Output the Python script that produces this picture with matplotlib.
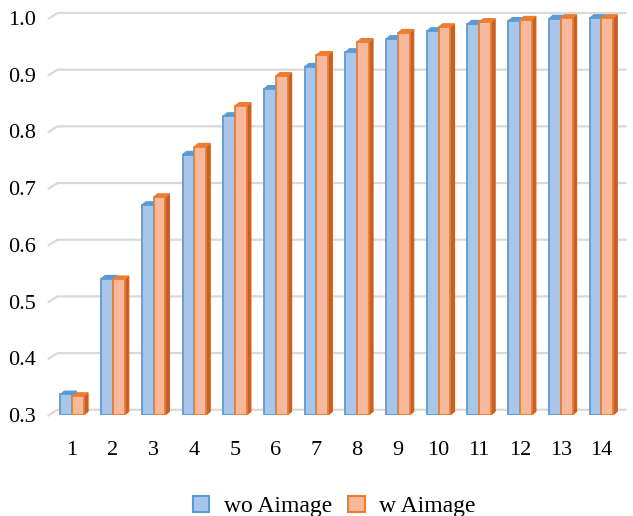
import matplotlib
matplotlib.use("Agg")
import matplotlib.pyplot as plt
from matplotlib.patches import Polygon, Patch
import numpy as np

categories = [str(i) for i in range(1, 15)]
wo_aimage = [0.336, 0.540, 0.670, 0.759, 0.827, 0.875, 0.914, 0.940, 0.963, 0.977, 0.990, 0.995, 0.999, 1.000]
w_aimage = [0.333, 0.539, 0.684, 0.773, 0.845, 0.898, 0.935, 0.958, 0.974, 0.984, 0.993, 0.997, 1.000, 1.000]
yticks = [0.3, 0.4, 0.5, 0.6, 0.7, 0.8, 0.9, 1.0]

plt.rcParams['font.family'] = ['Liberation Serif', 'DejaVu Serif']

fig = plt.figure(figsize=(6.33, 5.16), dpi=100)
ax = fig.add_axes([0.087, 0.196, 0.903, 0.781])

base = 0.3
x = np.arange(1, len(categories) + 1)
w = 0.29
dx = 0.10   # depth in x (data units)
dy = 0.006  # depth in y (data units)
xmin, xmax = 0.58, 14.62
ax.set_xlim(xmin, xmax)
ax.set_ylim(base, 1.011)

# gridlines on back wall with slanted floor part
for v in yticks:
    ax.plot([xmin - 0.18, xmin + 0.06, xmax], [v - dy * 0.3, v + dy * 1.5, v + dy * 1.5],
            color='#d9d9d9', lw=1.6, zorder=0, solid_capstyle='butt', clip_on=False)

series = [
    (wo_aimage, -w / 2, '#A9C6EA', '#5B9BD5', '#4A7EBB'),
    (w_aimage, w / 2, '#F8B89C', '#ED7D31', '#C0622A'),
]

for vals, off, face, edge, side in series:
    for xi, v in zip(x, vals):
        x0 = xi + off - w / 2
        x1 = xi + off + w / 2
        # side face
        ax.add_patch(Polygon([[x1, base], [x1 + dx, base + dy], [x1 + dx, v + dy], [x1, v]],
                             closed=True, facecolor=side, edgecolor=side, lw=0.8, zorder=2))
        # top face
        ax.add_patch(Polygon([[x0, v], [x0 + dx, v + dy], [x1 + dx, v + dy], [x1, v]],
                             closed=True, facecolor=edge, edgecolor=edge, lw=0.8, zorder=2))
    ax.bar(x + off, np.array(vals) - base, bottom=base, width=w, color=face,
           edgecolor=edge, linewidth=1.3, zorder=3)

for s in ax.spines.values():
    s.set_visible(False)

ax.set_xticks(x)
ax.set_xticklabels(categories, fontsize=16)
ax.set_yticks(yticks)
ax.set_yticklabels([f"{t:.1f}" for t in yticks], fontsize=16)
ax.tick_params(axis='both', length=0)
ax.tick_params(axis='y', pad=14)
ax.tick_params(axis='x', pad=19)

handles = [Patch(facecolor='#A9C6EA', edgecolor='#5B9BD5', lw=1.5, label='wo Aimage'),
           Patch(facecolor='#F8B89C', edgecolor='#ED7D31', lw=1.5, label='w Aimage')]
fig.legend(handles=handles, loc='center', bbox_to_anchor=(0.528, 0.018), ncol=2,
           frameon=False, fontsize=17, handlelength=0.7, handleheight=0.7,
           handletextpad=0.6, columnspacing=0.7)

fig.savefig('out.png', dpi=100)
